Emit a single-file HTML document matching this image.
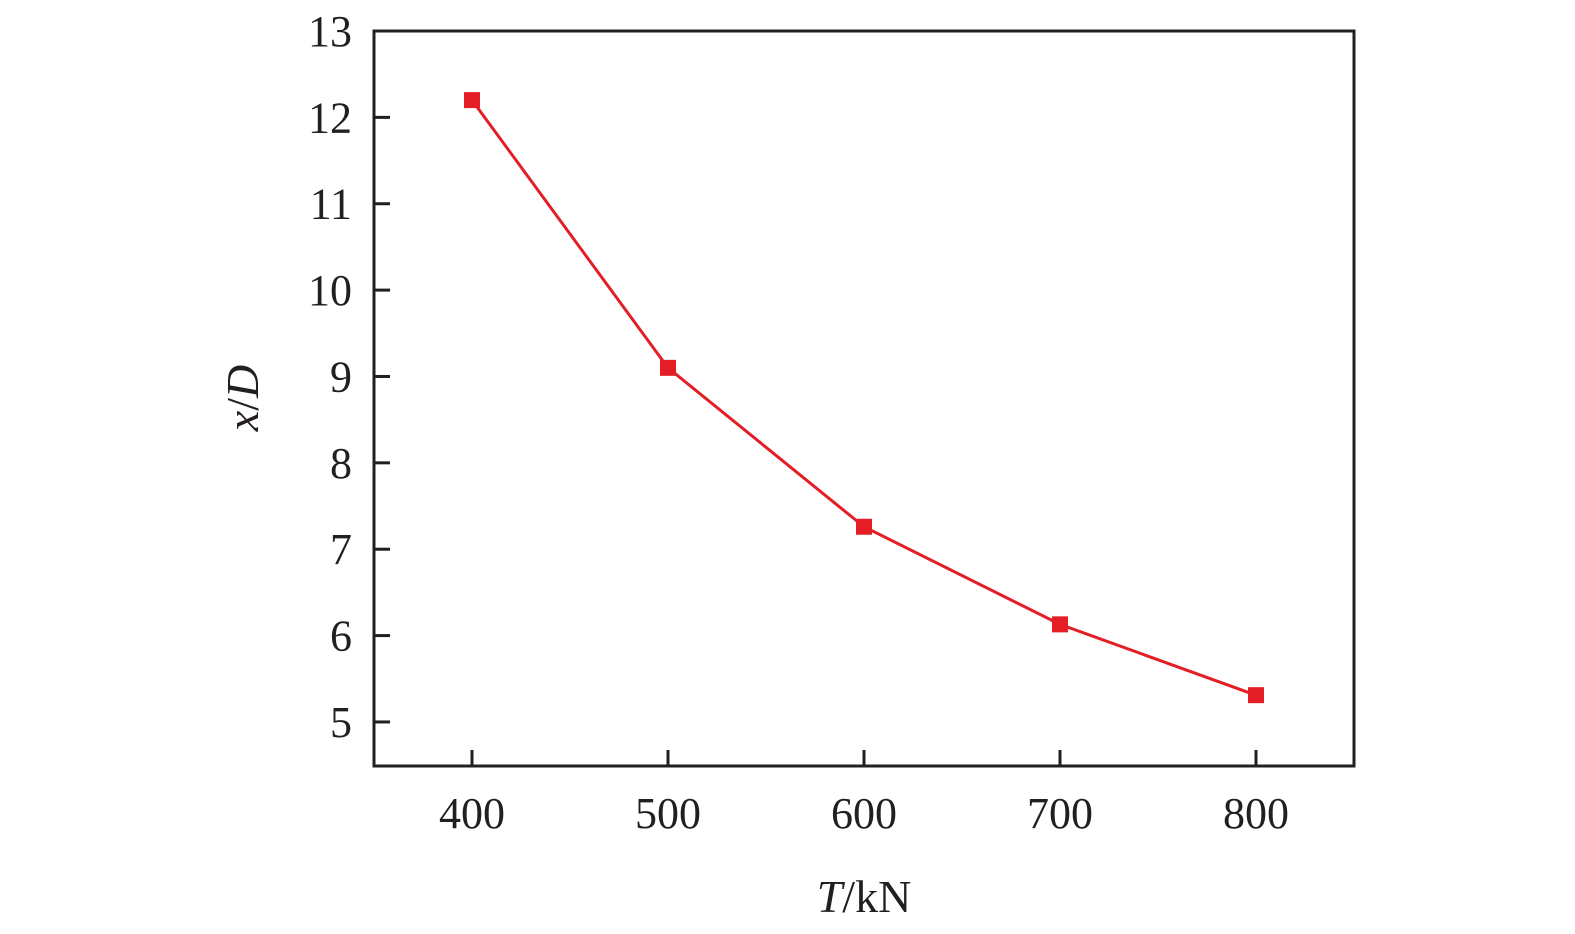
<!DOCTYPE html>
<html><head><meta charset="utf-8"><style>
body{margin:0;background:#fff}
svg{display:block;font-family:"Liberation Serif",serif}
</style></head><body>
<svg width="1575" height="934">
<g id="g"></g>
</svg>
<script>
const xValues=[400,500,600,700,800];
const yValues=[12.2,9.1,7.26,6.13,5.31];
const xTicks=[400,500,600,700,800];
const yTicks=[5,6,7,8,9,10,11,12,13];
const L=374,R=1354,T=31,B=766;
const X0=350,X1=850,Y0=4.49,Y1=13;
const sx=v=>L+(v-X0)/(X1-X0)*(R-L);
const sy=v=>B-(v-Y0)/(Y1-Y0)*(B-T);
const NS='http://www.w3.org/2000/svg';
const g=document.getElementById('g');
function mk(t,a,txt){const e=document.createElementNS(NS,t);for(const k in a)e.setAttribute(k,a[k]);if(txt!==undefined)e.textContent=txt;g.appendChild(e);return e;}
let e=mk('rect',{x:L,y:T,width:R-L,height:B-T,fill:'none',stroke:'#231f20','stroke-width':3});


yTicks.forEach(v=>{
 let t=mk('line',{x1:L,x2:L+16,y1:sy(v),y2:sy(v),stroke:'#231f20','stroke-width':3});
 
 
 let l=mk('text',{x:L-22,y:sy(v)+15,'text-anchor':'end','font-size':44,fill:'#231f20'},v);
 
 
});
xTicks.forEach(v=>{
 let t=mk('line',{x1:sx(v),x2:sx(v),y1:B,y2:B-16,stroke:'#231f20','stroke-width':3});
 
 
 let l=mk('text',{x:sx(v),y:828,'text-anchor':'middle','font-size':44,fill:'#231f20'},v);
 
 
});
let pts=xValues.map((x,i)=>sx(x)+','+sy(yValues[i])).join(' ');
let pl=mk('polyline',{points:pts,fill:'none',stroke:'#e31e24','stroke-width':3});


xValues.forEach((x,i)=>{
 let m=mk('rect',{x:sx(x)-8,y:sy(yValues[i])-8,width:16,height:16,fill:'#e31e24'});
 
 
});
let xt=mk('text',{x:864,y:912,'text-anchor':'middle','font-size':46,fill:'#231f20'});
xt.innerHTML='<tspan font-style="italic">T</tspan>/kN';


let yt=mk('text',{x:0,y:0,'text-anchor':'middle','font-size':46,fill:'#231f20',transform:'translate(258,398) rotate(-90)'});
yt.innerHTML='<tspan font-style="italic">x</tspan>/<tspan font-style="italic">D</tspan>';


</script>
</body></html>
